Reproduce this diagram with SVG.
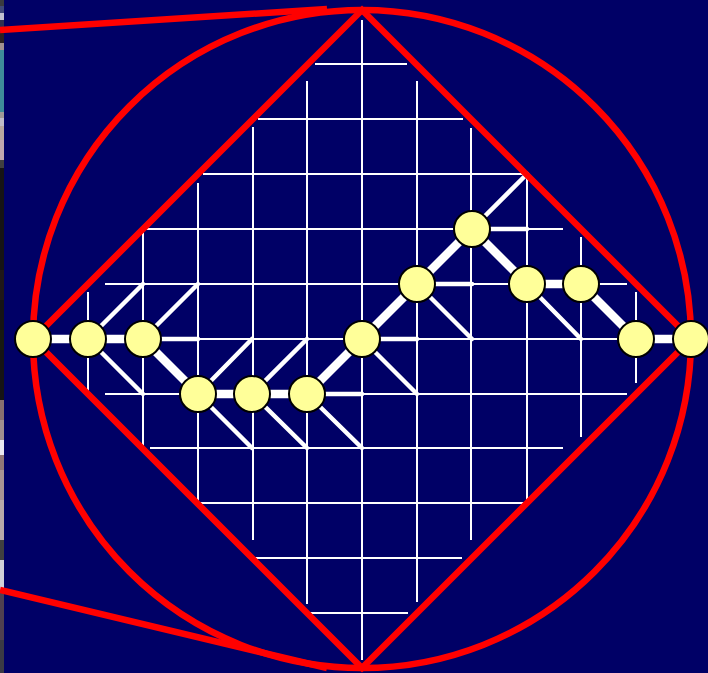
<svg xmlns="http://www.w3.org/2000/svg" width="708" height="673" viewBox="0 0 708 673">
<style>
.grid line{stroke:#ffffff;stroke-width:2;}
.path line{stroke:#ffffff;stroke-width:8.5;stroke-linecap:butt;}
.branch line{stroke:#ffffff;stroke-width:4.5;stroke-linecap:round;}
.red{stroke:#ff0000;stroke-width:6.5;fill:none;}
.node circle{fill:#ffff99;stroke:#000000;stroke-width:2;}
</style>
<rect x="0" y="0" width="708" height="673" fill="#000066"/>
<g id="edge-strip">
<rect x="0" y="0" width="4" height="6" fill="#3a3a40"/>
<rect x="0" y="6" width="4" height="7" fill="#404878"/>
<rect x="0" y="13" width="4" height="7" fill="#c0c0d0"/>
<rect x="0" y="20" width="4" height="13" fill="#303050"/>
<rect x="0" y="33" width="4" height="10" fill="#2a2020"/>
<rect x="0" y="43" width="4" height="7" fill="#a09090"/>
<rect x="0" y="50" width="4" height="62" fill="#3e8c9a"/>
<rect x="0" y="112" width="4" height="6" fill="#a09a98"/>
<rect x="0" y="118" width="4" height="8" fill="#c0bcc8"/>
<rect x="0" y="126" width="4" height="14" fill="#b8a8a0"/>
<rect x="0" y="140" width="4" height="20" fill="#c0a8b0"/>
<rect x="0" y="160" width="4" height="8" fill="#404040"/>
<rect x="0" y="168" width="4" height="232" fill="#161414"/>
<rect x="0" y="270" width="4" height="30" fill="#201818"/>
<rect x="0" y="330" width="4" height="20" fill="#181a10"/>
<rect x="0" y="400" width="4" height="20" fill="#887070"/>
<rect x="0" y="420" width="4" height="20" fill="#a09090"/>
<rect x="0" y="440" width="4" height="15" fill="#e8e8f0"/>
<rect x="0" y="455" width="4" height="15" fill="#907878"/>
<rect x="0" y="470" width="4" height="30" fill="#a89494"/>
<rect x="0" y="500" width="4" height="40" fill="#b8aaaa"/>
<rect x="0" y="540" width="4" height="20" fill="#404040"/>
<rect x="0" y="560" width="4" height="30" fill="#d0d0d8"/>
<rect x="0" y="590" width="4" height="50" fill="#504050"/>
<rect x="0" y="640" width="4" height="33" fill="#3a3a44"/>
</g>
<g id="grid" class="grid">
<line x1="315" y1="64" x2="407" y2="64"/>
<line x1="258" y1="119" x2="463" y2="119"/>
<line x1="203" y1="174" x2="527" y2="174"/>
<line x1="140" y1="229" x2="563" y2="229"/>
<line x1="105" y1="284" x2="627" y2="284"/>
<line x1="33" y1="339" x2="691" y2="339"/>
<line x1="105" y1="394" x2="627" y2="394"/>
<line x1="150" y1="448" x2="563" y2="448"/>
<line x1="200" y1="503" x2="527" y2="503"/>
<line x1="250" y1="558" x2="462" y2="558"/>
<line x1="307" y1="613" x2="408" y2="613"/>
<line x1="88" y1="292" x2="88" y2="394"/>
<line x1="143" y1="227" x2="143" y2="448"/>
<line x1="198" y1="183" x2="198" y2="503"/>
<line x1="253" y1="127" x2="253" y2="540"/>
<line x1="307" y1="81" x2="307" y2="604"/>
<line x1="362" y1="20" x2="362" y2="660"/>
<line x1="417" y1="81" x2="417" y2="602"/>
<line x1="471" y1="128" x2="471" y2="540"/>
<line x1="527" y1="174" x2="527" y2="504"/>
<line x1="581" y1="237" x2="581" y2="437"/>
<line x1="636" y1="292" x2="636" y2="383"/>
</g>
<g id="connectors">
<g class="branch">
<line x1="88" y1="339" x2="143" y2="284"/>
<line x1="88" y1="339" x2="143" y2="394"/>
<line x1="143" y1="339" x2="198" y2="284"/>
<line x1="143" y1="339" x2="198" y2="339"/>
<line x1="198" y1="394" x2="252" y2="339"/>
<line x1="198" y1="394" x2="252" y2="448"/>
<line x1="252" y1="394" x2="307" y2="339"/>
<line x1="252" y1="394" x2="307" y2="448"/>
<line x1="307" y1="394" x2="362" y2="394"/>
<line x1="307" y1="394" x2="362" y2="448"/>
<line x1="362" y1="339" x2="417" y2="339"/>
<line x1="362" y1="339" x2="417" y2="394"/>
<line x1="417" y1="284" x2="472" y2="284"/>
<line x1="417" y1="284" x2="472" y2="339"/>
<line x1="472" y1="229" x2="527" y2="229"/>
<line x1="472" y1="229" x2="527" y2="174"/>
<line x1="527" y1="284" x2="581" y2="339"/>
</g>
<g class="path">
<line x1="33" y1="339" x2="88" y2="339"/>
<line x1="88" y1="339" x2="143" y2="339"/>
<line x1="143" y1="339" x2="198" y2="394"/>
<line x1="198" y1="394" x2="252" y2="394"/>
<line x1="252" y1="394" x2="307" y2="394"/>
<line x1="307" y1="394" x2="362" y2="339"/>
<line x1="362" y1="339" x2="417" y2="284"/>
<line x1="417" y1="284" x2="472" y2="229"/>
<line x1="472" y1="229" x2="527" y2="284"/>
<line x1="527" y1="284" x2="581" y2="284"/>
<line x1="581" y1="284" x2="636" y2="339"/>
<line x1="636" y1="339" x2="691" y2="339"/>
</g>
</g>
<g id="outline">
<circle class="red" cx="362" cy="339" r="329"/>
<polygon class="red" points="33,339 362,10 691,339 362,668" stroke-linejoin="miter"/>
<line class="red" x1="0" y1="30" x2="327" y2="9"/>
<line class="red" x1="0" y1="590" x2="327" y2="668"/>
</g>
<g id="n1" class="node"><circle cx="33" cy="339" r="18"/></g>
<g id="n2" class="node"><circle cx="88" cy="339" r="18"/></g>
<g id="n3" class="node"><circle cx="143" cy="339" r="18"/></g>
<g id="n4" class="node"><circle cx="198" cy="394" r="18"/></g>
<g id="n5" class="node"><circle cx="252" cy="394" r="18"/></g>
<g id="n6" class="node"><circle cx="307" cy="394" r="18"/></g>
<g id="n7" class="node"><circle cx="362" cy="339" r="18"/></g>
<g id="n8" class="node"><circle cx="417" cy="284" r="18"/></g>
<g id="n9" class="node"><circle cx="472" cy="229" r="18"/></g>
<g id="n10" class="node"><circle cx="527" cy="284" r="18"/></g>
<g id="n11" class="node"><circle cx="581" cy="284" r="18"/></g>
<g id="n12" class="node"><circle cx="636" cy="339" r="18"/></g>
<g id="n13" class="node"><circle cx="691" cy="339" r="18"/></g>
</svg>
